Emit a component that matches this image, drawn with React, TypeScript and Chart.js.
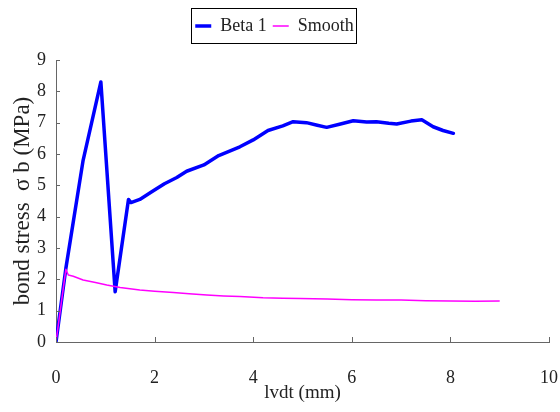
import React, { useEffect, useRef } from "react";
import { Chart, registerables } from "chart.js";

Chart.register(...registerables);

const seriesLabels = ["Beta 1", "Smooth"];
const xTitle = "lvdt (mm)";
const yTitle = "bond stress  σ b (MPa)";

const betaX = [0, 0.2, 0.55, 0.91, 1.2, 1.47, 1.52, 1.7, 1.95, 2.2, 2.45, 2.65, 3.0, 3.3, 3.73, 4.0, 4.3, 4.6, 4.81, 5.08, 5.3, 5.49, 5.75, 6.03, 6.3, 6.5, 6.75, 6.91, 7.2, 7.42, 7.65, 7.85, 8.06];
const betaY = [0, 2.35, 5.8, 8.3, 1.6, 4.55, 4.45, 4.55, 4.8, 5.05, 5.25, 5.45, 5.65, 5.95, 6.23, 6.45, 6.75, 6.9, 7.03, 7.0, 6.92, 6.85, 6.95, 7.06, 7.02, 7.03, 6.98, 6.96, 7.05, 7.09, 6.87, 6.75, 6.66];

const smoothX = [0, 0.2, 0.25, 0.35, 0.55, 0.8, 1.03, 1.3, 1.7, 2.0, 2.38, 2.7, 3.06, 3.4, 3.73, 4.2, 4.6, 4.95, 5.5, 6.0, 6.5, 7.0, 7.5, 8.0, 8.5, 9.0];
const smoothY = [0, 2.32, 2.14, 2.1, 1.98, 1.9, 1.82, 1.74, 1.66, 1.62, 1.58, 1.54, 1.5, 1.47, 1.45, 1.41, 1.4, 1.39, 1.37, 1.35, 1.34, 1.34, 1.32, 1.31, 1.3, 1.31];

const xMin = 0, xMax = 10, xStep = 2;
const yMin = 0, yMax = 9, yStep = 1;

const FONT = "'Liberation Serif', 'Times New Roman', serif";
const AXIS_COLOR = "#666666";
const TEXT_COLOR = "#222222";

const legendBoxPlugin = {
  id: "legendBox",
  beforeLayout(chart: any) {
    const lg = chart.legend;
    if (lg && !lg.__patched) {
      const orig = lg.fit.bind(lg);
      lg.fit = function () {
        orig();
        this.height = 49;
      };
      lg.__patched = true;
    }
  },
  afterDraw(chart: any) {
    const lg = chart.legend;
    if (!lg || !lg.legendHitBoxes || !lg.legendHitBoxes.length) return;
    const hb = lg.legendHitBoxes;
    let minX = Infinity, maxX = -Infinity, minY = Infinity, maxY = -Infinity;
    hb.forEach((b: any) => {
      minX = Math.min(minX, b.left);
      maxX = Math.max(maxX, b.left + b.width);
      minY = Math.min(minY, b.top);
      maxY = Math.max(maxY, b.top + b.height);
    });
    const cy = (minY + maxY) / 2;
    const ctx = chart.ctx;
    ctx.save();
    ctx.strokeStyle = "#000";
    ctx.lineWidth = 1;
    ctx.strokeRect(Math.round(minX - 4) + 0.5, Math.round(cy - 18) + 0.5, Math.round(maxX - minX + 7), 35);
    ctx.restore();
  },
};

const innerTicksPlugin = {
  id: "innerTicks",
  afterDraw(chart: any) {
    const xs = chart.scales.x;
    const ys = chart.scales.y;
    const ca = chart.chartArea;
    const ctx = chart.ctx;
    ctx.save();
    ctx.strokeStyle = AXIS_COLOR;
    ctx.lineWidth = 1;
    ctx.beginPath();
    xs.ticks.forEach((t: any) => {
      const p = Math.round(xs.getPixelForValue(t.value)) + 0.5;
      ctx.moveTo(p, ca.bottom);
      ctx.lineTo(p, ca.bottom - 5);
    });
    ys.ticks.forEach((t: any) => {
      const p = Math.round(ys.getPixelForValue(t.value)) + 0.5;
      ctx.moveTo(ca.left, p);
      ctx.lineTo(ca.left + 4, p);
    });
    ctx.stroke();
    ctx.restore();
  },
};

export default function App() {
  const ref = useRef<HTMLCanvasElement | null>(null);

  useEffect(() => {
    if (!ref.current) return;
    const beta = betaX.map((x, i) => ({ x, y: betaY[i] }));
    const smooth = smoothX.map((x, i) => ({ x, y: smoothY[i] }));
    const chart = new Chart(ref.current, {
      type: "line",
      data: {
        datasets: [
          {
            label: seriesLabels[0],
            data: beta,
            borderColor: "#0000FF",
            backgroundColor: "#0000FF",
            borderWidth: 3.5,
            borderJoinStyle: "round",
            borderCapStyle: "round",
            pointRadius: 0,
            pointStyle: "line",
            tension: 0,
            order: 1,
          },
          {
            label: seriesLabels[1],
            data: smooth,
            borderColor: "#FF00FF",
            backgroundColor: "#FF00FF",
            borderWidth: 1.5,
            borderJoinStyle: "round",
            pointRadius: 0,
            pointStyle: "line",
            tension: 0,
            order: 0,
          },
        ],
      },
      options: {
        animation: false,
        responsive: false,
        layout: { padding: { left: 0, right: 11, top: 11, bottom: 0 } },
        plugins: {
          tooltip: { enabled: false },
          legend: {
            display: true,
            position: "top",
            labels: {
              usePointStyle: true,
              pointStyle: "line",
              pointStyleWidth: 16,
              padding: 6,
              color: TEXT_COLOR,
              font: { family: FONT, size: 18 },
              sort: (a: any, b: any) => a.datasetIndex - b.datasetIndex,
            },
          },
        },
        scales: {
          x: {
            type: "linear",
            min: xMin,
            max: xMax,
            ticks: { stepSize: xStep, padding: 0, color: TEXT_COLOR, font: { family: FONT, size: 18 } },
            grid: { display: false, drawTicks: true, tickLength: 25 },
            border: { display: true, color: AXIS_COLOR, width: 1 },
            title: {
              display: true,
              text: xTitle,
              color: TEXT_COLOR,
              font: { family: FONT, size: 19 },
              padding: { top: 0, bottom: 8 },
            },
            afterFit: (s: any) => {
              s.height = 70;
            },
          },
          y: {
            type: "linear",
            min: yMin,
            max: yMax,
            ticks: { stepSize: yStep, padding: 0, color: TEXT_COLOR, font: { family: FONT, size: 18 } },
            grid: { display: false, drawTicks: true, tickLength: 10 },
            border: { display: true, color: AXIS_COLOR, width: 1 },
            title: {
              display: true,
              text: yTitle,
              color: TEXT_COLOR,
              font: { family: FONT, size: 23 },
              padding: { top: 9, bottom: 0 },
            },
            afterFit: (s: any) => {
              s.width = 56;
            },
          },
        },
      },
      plugins: [legendBoxPlugin, innerTicksPlugin],
    } as any);
    return () => chart.destroy();
  }, []);

  return (
    <div style={{ position: "absolute", left: 0, top: 0, width: 560, height: 412, background: "#fff" }}>
      <canvas ref={ref} width={560} height={412} style={{ display: "block" }} />
    </div>
  );
}
